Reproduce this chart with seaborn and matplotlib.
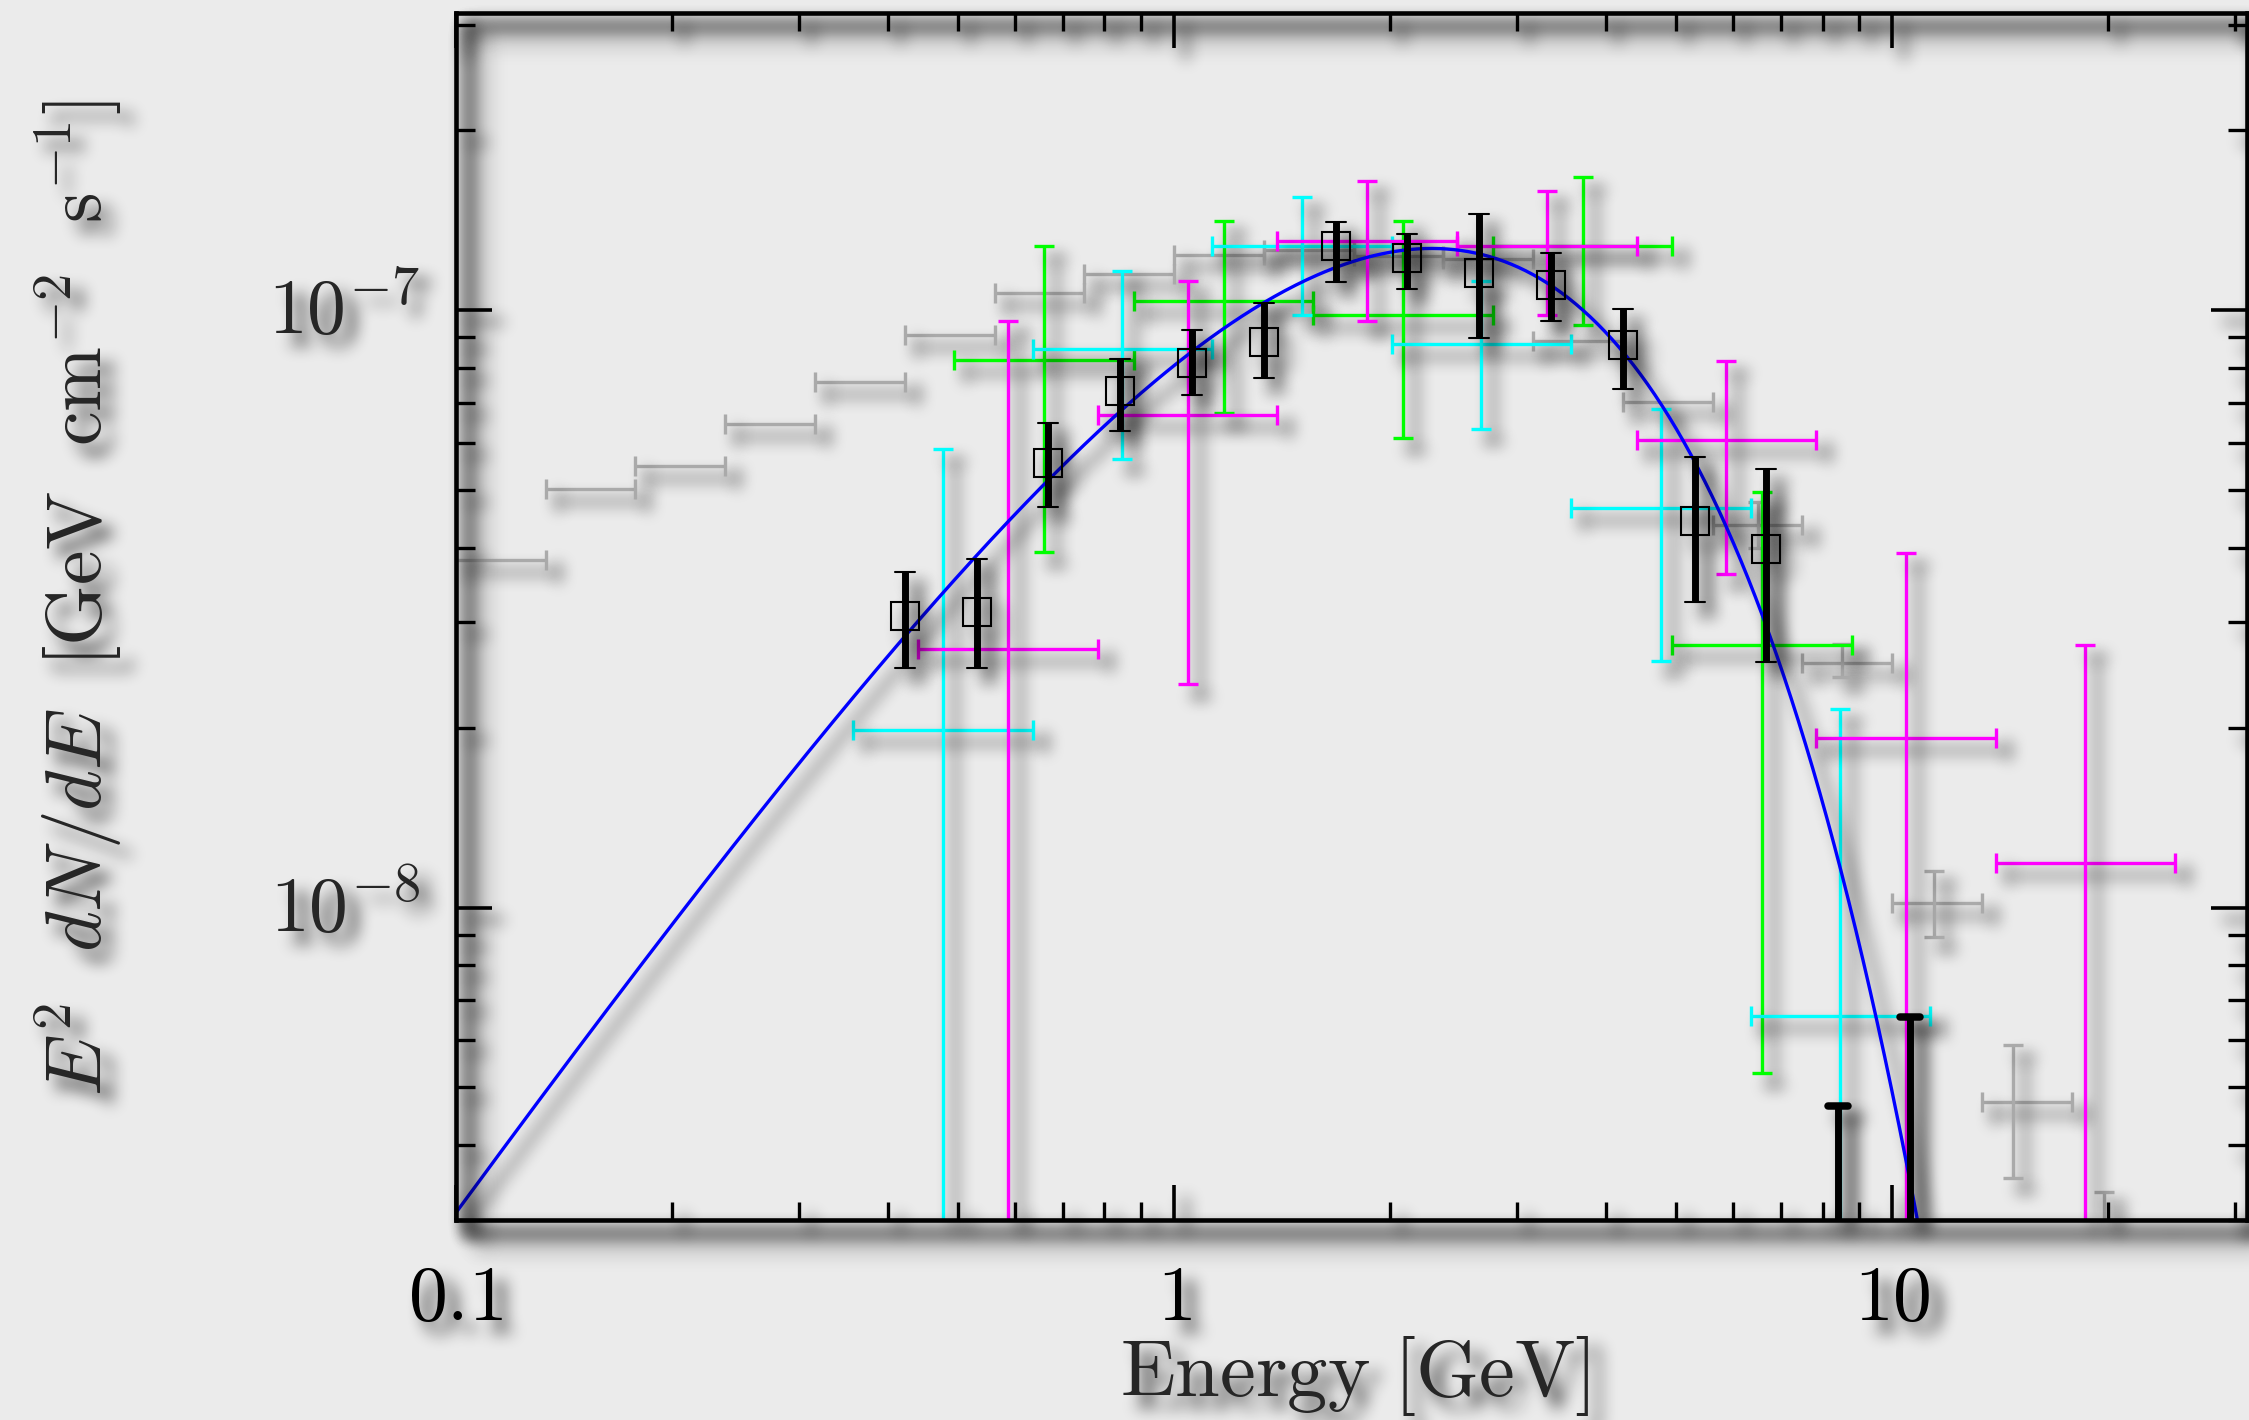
import numpy as np
import pandas as pd
import matplotlib
matplotlib.use("Agg")
import matplotlib.pyplot as plt
import matplotlib.transforms as mtransforms
from matplotlib.markers import MarkerStyle
from matplotlib.ticker import FixedLocator, LogLocator, NullFormatter
import seaborn as sns

# ------------------------------------------------------------------
# Spectral points (energy in GeV, E^2 dN/dE in GeV cm^-2 s^-1)
# ------------------------------------------------------------------

# grey: fine binned spectrum, 8 bins per decade
grey_e = [0.1155, 0.1540, 0.2054, 0.2738, 0.3652, 0.4870, 0.6494, 0.8660,
          1.155, 1.540, 2.054, 2.738, 3.652, 4.870, 6.494,
          8.52, 11.43, 14.74, 19.72]
grey_e_lo = [0.1000, 0.1334, 0.1778, 0.2371, 0.3162, 0.4217, 0.5623, 0.7499,
             1.000, 1.334, 1.778, 2.371, 3.162, 4.217, 5.623,
             7.499, 10.00, 13.34, 17.78]
grey_e_hi = [0.1334, 0.1778, 0.2371, 0.3162, 0.4217, 0.5623, 0.7499, 1.000,
             1.334, 1.778, 2.371, 3.162, 4.217, 5.623, 7.499,
             10.00, 13.34, 17.78, 23.71]
grey_f = [3.82e-8, 5.01e-8, 5.48e-8, 6.45e-8, 7.58e-8, 9.09e-8, 1.069e-7, 1.15e-7,
          1.235e-7, 1.26e-7, 1.23e-7, 1.215e-7, 8.87e-8, 7.01e-8, 4.36e-8,
          2.57e-8, 1.016e-8, 4.73e-9, 2.9e-9]
# flux errors of the grey points (only the last bins have visible ones)
grey_f_lo = [None] * 14 + [4.00e-8, 2.43e-8, 8.94e-9, 3.53e-9, 2.5e-9]
grey_f_hi = [None] * 14 + [4.77e-8, 2.765e-8, 1.152e-8, 5.88e-9, 3.34e-9]

# green: quarter-decade bins
green_e = [0.659, 1.172, 2.084, 3.707, 6.592]
green_e_lo = [0.494, 0.879, 1.563, 2.780, 4.943]
green_e_hi = [0.879, 1.563, 2.780, 4.943, 8.790]
green_f = [8.26e-8, 1.037e-7, 9.80e-8, 1.28e-7, 2.754e-8]
green_f_lo = [3.94e-8, 6.73e-8, 6.10e-8, 9.43e-8, 5.28e-9]
green_f_hi = [1.279e-7, 1.408e-7, 1.408e-7, 1.671e-7, 4.955e-8]

# cyan: quarter-decade bins
cyan_e = [0.4764, 0.8472, 1.507, 2.679, 4.764, 8.472]
cyan_e_lo = [0.3573, 0.6353, 1.130, 2.009, 3.573, 6.353]
cyan_e_hi = [0.6353, 1.130, 2.009, 3.573, 6.353, 11.30]
cyan_f = [1.985e-8, 8.59e-8, 1.28e-7, 8.76e-8, 4.67e-8, 6.58e-9]
cyan_f_lo = [1e-10, 5.64e-8, 9.80e-8, 6.33e-8, 2.59e-8, 1e-10]
cyan_f_hi = [5.86e-8, 1.161e-7, 1.547e-7, 1.117e-7, 6.84e-8, 2.145e-8]

# magenta: quarter-decade bins
mag_e = [0.5875, 1.045, 1.858, 3.304, 5.875, 10.45, 18.58]
mag_e_lo = [0.4406, 0.7834, 1.393, 2.477, 4.406, 7.834, 13.93]
mag_e_hi = [0.7834, 1.393, 2.477, 4.406, 7.834, 13.93, 24.77]
mag_f = [2.71e-8, 6.67e-8, 1.303e-7, 1.28e-7, 6.07e-8, 1.919e-8, 1.187e-8]
mag_f_lo = [1e-10, 2.37e-8, 9.60e-8, 9.80e-8, 3.61e-8, 1e-10, 1e-10]
mag_f_hi = [9.60e-8, 1.119e-7, 1.642e-7, 1.579e-7, 8.23e-8, 3.92e-8, 2.75e-8]

# black: tenth-decade points and upper limits
black_e = [0.422, 0.531, 0.668, 0.841, 1.059, 1.334, 1.679, 2.113, 2.661,
           3.350, 4.217, 5.309, 6.683]
black_f = [3.07e-8, 3.12e-8, 5.55e-8, 7.31e-8, 8.155e-8, 8.83e-8, 1.279e-7,
           1.223e-7, 1.151e-7, 1.10e-7, 8.73e-8, 4.43e-8, 3.98e-8]
black_f_lo = [2.52e-8, 2.52e-8, 4.68e-8, 6.27e-8, 7.20e-8, 7.69e-8, 1.113e-7,
              1.082e-7, 8.98e-8, 9.58e-8, 7.38e-8, 3.25e-8, 2.58e-8]
black_f_hi = [3.65e-8, 3.83e-8, 6.46e-8, 8.29e-8, 9.24e-8, 1.028e-7, 1.403e-7,
              1.341e-7, 1.45e-7, 1.243e-7, 1.005e-7, 5.67e-8, 5.42e-8]
black_ul_e = [8.414, 10.59]
black_ul_f = [4.66e-9, 6.56e-9]

# power law with exponential cut-off: K * E^(2 - index) * exp(-E / ecut)
model_norm = 1.706e-7
model_index = 0.29
model_ecut = 1.336

xtick_vals = [0.1, 1, 10]
xtick_text = [r"$\mathrm{0.1}$", r"$\mathrm{1}$", r"$\mathrm{10}$"]
ytick_vals = [1e-8, 1e-7]
ytick_text = [r"$10^{-8}$", r"$10^{-7}$"]


# ------------------------------------------------------------------
# soft drop shadow applied through agg filters
# ------------------------------------------------------------------
def _box(a, r, axis):
    a = np.moveaxis(a, axis, 0)
    pad = [(r + 1, r)] + [(0, 0)] * (a.ndim - 1)
    c = np.cumsum(np.pad(a, pad), axis=0)
    out = (c[2 * r + 1:] - c[:-2 * r - 1]) / (2 * r + 1)
    return np.moveaxis(out, 0, axis)


class DropShadow:
    def __init__(self, dx=12, dy=12, radius=7, opacity=0.85):
        self.dx, self.dy, self.r, self.opacity = dx, dy, radius, opacity

    def __call__(self, im, dpi):
        r = self.r
        pad = 3 * r + max(self.dx, self.dy) + 2
        src = np.pad(im, ((pad, pad), (pad, pad), (0, 0)))
        a = src[..., 3]
        sh = a
        for _ in range(3):
            sh = _box(sh, r, 0)
            sh = _box(sh, r, 1)
        sh = np.clip(np.roll(sh, (self.dy, self.dx), axis=(0, 1)) * self.opacity, 0, 1)
        out_a = a + sh * (1.0 - a)
        safe = np.where(out_a > 0, out_a, 1.0)
        out = np.empty_like(src)
        out[..., :3] = src[..., :3] * (a / safe)[..., None]
        out[..., 3] = out_a
        return np.clip(out, 0, 1), -pad, -pad


shadow = DropShadow()


def add_shadow(container):
    data_line, caps, bars = container.lines
    for art in [data_line, *caps, *bars]:
        if art is not None:
            art.set_agg_filter(shadow)


# ------------------------------------------------------------------
# figure
# ------------------------------------------------------------------
sns.set_theme(style="ticks")
bg = "#ebebeb"
plt.rcParams.update({
    "figure.facecolor": bg,
    "axes.facecolor": bg,
    "savefig.facecolor": bg,
    "axes.edgecolor": "black",
    "axes.linewidth": 3.3,
    "mathtext.fontset": "cm",
    "font.family": ["DejaVu Serif"],
    "xtick.direction": "in",
    "ytick.direction": "in",
    "xtick.top": True,
    "ytick.right": True,
    "xtick.color": "black",
    "ytick.color": "black",
    "xtick.major.size": 25,
    "xtick.minor.size": 13,
    "ytick.major.size": 26,
    "ytick.minor.size": 13.5,
    "xtick.major.width": 2.6,
    "xtick.minor.width": 2.4,
    "ytick.major.width": 2.6,
    "ytick.minor.width": 2.4,
})

fig = plt.figure(figsize=(22.49, 14.20), dpi=100)
ax = fig.add_axes([0.20276, 0.14085, 0.79635, 0.85000])
ax.set_xscale("log")
ax.set_yscale("log")
ax.set_xlim(0.1, 31.2)
ax.set_ylim(3.0e-9, 3.14e-7)


def cross_series(e, e_lo, e_hi, f, f_lo, f_hi, color, z):
    e, e_lo, e_hi, f = map(np.asarray, (e, e_lo, e_hi, f))
    yerr = None
    if f_lo is not None:
        yerr = [f - np.asarray(f_lo), np.asarray(f_hi) - f]
    cont = ax.errorbar(e, f, xerr=[e - e_lo, e_hi - e], yerr=yerr,
                       fmt="none", ecolor=color, elinewidth=2.4, capsize=7.2,
                       capthick=2.4, zorder=z)
    add_shadow(cont)
    return cont


# grey: bins without flux errors, then bins with them
n_plain = sum(v is None for v in grey_f_lo)
cross_series(grey_e[:n_plain], grey_e_lo[:n_plain], grey_e_hi[:n_plain],
             grey_f[:n_plain], None, None, "#aaaaaa", 2.0)
cross_series(grey_e[n_plain:], grey_e_lo[n_plain:], grey_e_hi[n_plain:],
             grey_f[n_plain:], grey_f_lo[n_plain:], grey_f_hi[n_plain:], "#aaaaaa", 2.0)
cross_series(green_e, green_e_lo, green_e_hi, green_f, green_f_lo, green_f_hi, "#00ff00", 2.1)
cross_series(cyan_e, cyan_e_lo, cyan_e_hi, cyan_f, cyan_f_lo, cyan_f_hi, "#00ffff", 2.2)
cross_series(mag_e, mag_e_lo, mag_e_hi, mag_f, mag_f_lo, mag_f_hi, "#ff00ff", 2.3)

# fitted model curve
e_grid = np.logspace(-1, np.log10(31.2), 500)
model = pd.DataFrame({
    "energy": e_grid,
    "flux": model_norm * e_grid ** (2 - model_index) * np.exp(-e_grid / model_ecut),
})
sns.lineplot(data=model, x="energy", y="flux", color="#0000ff", lw=2.4,
             estimator=None, sort=False, ax=ax, zorder=2.6)
ax.lines[-1].set_agg_filter(shadow)

# black points with thick error bars
bf = np.asarray(black_f)
black = ax.errorbar(black_e, bf, yerr=[bf - np.asarray(black_f_lo), np.asarray(black_f_hi) - bf],
                    fmt="s", ms=19.5, mfc="none", mec="black", mew=1.5,
                    ecolor="black", elinewidth=5.0, capsize=7.0, capthick=5.4, zorder=5)
ulf = np.asarray(black_ul_f)
black_ul = ax.errorbar(black_ul_e, ulf, yerr=[ulf - 1e-10, np.zeros_like(ulf)],
                       fmt="none", ecolor="black", elinewidth=5.0, capsize=7.0,
                       capthick=5.4, zorder=5)
for cont in (black, black_ul):
    for cap in cont.lines[1]:
        cap.set_marker(MarkerStyle("_", capstyle="round"))
    add_shadow(cont)

# axes decoration
ax.xaxis.set_major_locator(FixedLocator(xtick_vals))
ax.set_xticklabels(xtick_text)
ax.xaxis.set_minor_locator(LogLocator(base=10, subs=np.arange(2, 10)))
ax.xaxis.set_minor_formatter(NullFormatter())
ax.yaxis.set_major_locator(FixedLocator(ytick_vals))
ax.set_yticklabels(["", ""])
ax.yaxis.set_minor_locator(LogLocator(base=10, subs=np.arange(2, 10)))
ax.yaxis.set_minor_formatter(NullFormatter())
ax.tick_params(axis="x", which="major", labelsize=56, pad=29)
ax.tick_params(which="both", top=True, right=True, direction="in")

ylab_trans = mtransforms.offset_copy(ax.get_yaxis_transform(), fig=fig,
                                     x=-36, y=-24, units="dots")
for v, s in zip(ytick_vals, ytick_text):
    t = ax.text(0, v, s, transform=ylab_trans, ha="right", va="baseline",
                fontsize=56, clip_on=False)
    t.set_agg_filter(shadow)

ax.set_xlabel(r"$\mathrm{Energy\ [GeV]}$", fontsize=58)
ax.xaxis.set_label_coords(0.502, -0.1458)
ax.xaxis.label.set_va("baseline")
ax.set_ylabel(r"$E^2\ \ dN/dE\ \ [\mathrm{GeV\ \ cm^{-2}\ \ s^{-1}}]$", fontsize=56)
ax.yaxis.set_label_coords(-0.2105, 0.5153)
ax.yaxis.label.set_va("center")
ax.yaxis.label.set_ha("center")

ax.xaxis.set_agg_filter(shadow)
ax.yaxis.set_agg_filter(shadow)
for sp in ax.spines.values():
    sp.set_agg_filter(shadow)
    sp.set_zorder(6)

fig.savefig("out.png", dpi=100, facecolor=bg)
